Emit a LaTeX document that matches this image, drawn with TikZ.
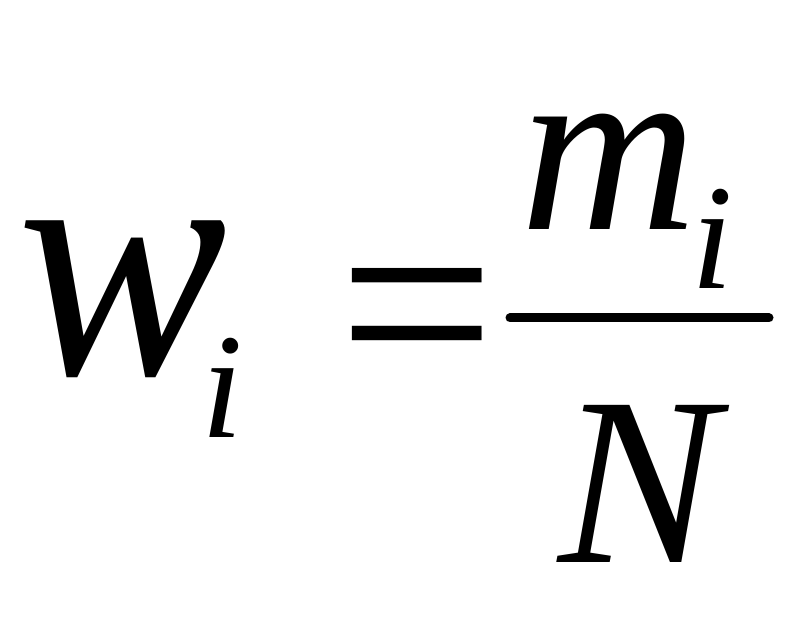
\documentclass[tikz,border=0pt]{standalone}
\usepackage{fontspec}
\setmainfont{Liberation Serif}
\begin{document}
\begin{tikzpicture}[x=1pt,y=1pt,
  glyph/.style={inner sep=0pt, outer sep=0pt, anchor=base},
  big/.style={font=\fontsize{335}{335}\selectfont\itshape},
  mid/.style={font=\fontsize{245}{245}\selectfont\itshape},
  low/.style={font=\fontsize{240}{240}\selectfont\itshape},
  small/.style={font=\fontsize{150}{150}\selectfont\itshape},
  eqs/.style={font=\fontsize{258}{258}\selectfont}]
\useasboundingbox (0,0) rectangle (808,619);
\fill[white] (0,0) rectangle (808,619);
\node[glyph,big,xscale=0.94] (w) at (123,244) {w};
\node[glyph,small] (wi) at (222,182) {i};
\node[glyph,eqs,xscale=1.08,yscale=1.12] (eq) at (417,219) {=};
\node[glyph,mid] (m) at (609,389) {m};
\node[glyph,small] (mi) at (712.5,330) {i};
\node[glyph,low] (N) at (639,57) {N};
\coordinate (barL) at (510,301);
\coordinate (barR) at (769,301);
\draw[line width=9pt, line cap=round] (barL) -- (barR);
\end{tikzpicture}
\end{document}
